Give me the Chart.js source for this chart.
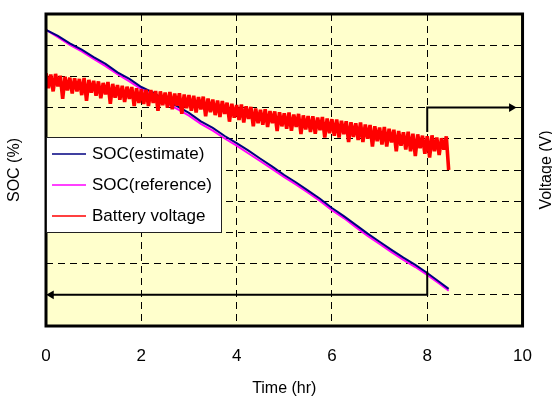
<!DOCTYPE html>
<html>
<head>
<meta charset="utf-8">
<script src="https://cdn.jsdelivr.net/npm/chart.js@4.4.1/dist/chart.umd.min.js"></script>
<style>
  html, body { margin: 0; padding: 0; background: #fff; }
</style>
</head>
<body>
<canvas id="myChart" width="552" height="399"></canvas>
<script>
// SOC samples (hr, %)
const socTime = [0, 0.25, 0.5, 0.75, 1, 1.25, 1.5, 1.75, 2, 2.25, 2.5, 2.75, 3, 3.25, 3.5, 3.75, 4, 4.25, 4.5, 4.75,
  5, 5.25, 5.5, 5.75, 6, 6.25, 6.5, 6.75, 7, 7.25, 7.5, 7.75, 8, 8.25, 8.45];
const socEstimate = [94.9, 93.0, 90.6, 88.6, 86.2, 84.0, 81.3, 79.2, 76.6, 74.8, 72.4, 70.5, 68.3, 65.6, 63.5, 60.9, 58.6, 56.2, 53.6, 51.1,
  48.4, 46.0, 43.4, 40.8, 37.8, 35.2, 32.4, 29.6, 27.0, 24.4, 21.9, 19.6, 17.0, 14.2, 11.9];
const socReference = [94.9, 92.6, 90.1, 88.0, 85.6, 83.3, 80.7, 78.4, 75.9, 73.9, 71.6, 69.6, 67.4, 64.8, 62.6, 60.1, 57.8, 55.3, 52.8, 50.3,
  47.7, 45.3, 42.7, 40.1, 37.1, 34.6, 31.7, 28.9, 26.3, 23.7, 21.2, 18.9, 16.4, 13.6, 11.3];

// battery voltage, one sample every 0.05 hr
const voltageStep = 0.05;
const batteryVoltage = [
  3.810, 3.762, 3.806, 3.752, 3.808, 3.768, 3.802, 3.728, 3.799, 3.755,
  3.796, 3.745, 3.794, 3.752, 3.792, 3.740, 3.795, 3.722, 3.789, 3.748,
  3.786, 3.738, 3.784, 3.730, 3.779, 3.742, 3.782, 3.712, 3.776, 3.732,
  3.772, 3.725, 3.770, 3.718, 3.767, 3.728, 3.766, 3.705, 3.762, 3.715,
  3.759, 3.712, 3.757, 3.705, 3.756, 3.715, 3.753, 3.690, 3.752, 3.708,
  3.748, 3.700, 3.750, 3.695, 3.745, 3.706, 3.746, 3.680, 3.742, 3.698,
  3.740, 3.690, 3.738, 3.684, 3.734, 3.694, 3.735, 3.672, 3.729, 3.685,
  3.726, 3.676, 3.723, 3.670, 3.721, 3.680, 3.716, 3.655, 3.712, 3.668,
  3.708, 3.660, 3.710, 3.652, 3.704, 3.664, 3.702, 3.640, 3.697, 3.650,
  3.693, 3.645, 3.695, 3.638, 3.689, 3.650, 3.688, 3.625, 3.685, 3.640,
  3.682, 3.632, 3.684, 3.626, 3.678, 3.638, 3.680, 3.615, 3.675, 3.630,
  3.673, 3.622, 3.672, 3.616, 3.668, 3.628, 3.670, 3.604, 3.665, 3.618,
  3.663, 3.610, 3.662, 3.604, 3.658, 3.615, 3.656, 3.590, 3.653, 3.606,
  3.650, 3.596, 3.652, 3.590, 3.646, 3.600, 3.644, 3.575, 3.640, 3.592,
  3.636, 3.582, 3.638, 3.575, 3.632, 3.588, 3.629, 3.560, 3.625, 3.578,
  3.621, 3.566, 3.623, 3.560, 3.616, 3.545, 3.614, 3.570, 3.610, 3.552,
  3.608, 3.540, 3.611, 3.560, 3.604, 3.548, 3.602, 3.565, 3.608, 3.500
];

// arrows pointing to each axis
const voltArrowX = [8, 8, 9.77];
const voltArrowY = [3.622, 3.70, 3.70];
const socArrowX = [8, 8, 0.11];
const socArrowY = [17.5, 10, 10];

const xTicks = [0, 2, 4, 6, 8, 10];

const pts = (xs, ys) => xs.map((x, i) => ({ x: x, y: ys[i] }));
const voltagePoints = batteryVoltage.map((v, i) => ({ x: +(i * voltageStep).toFixed(2), y: v }));

const FONT = '"Liberation Sans", Arial, sans-serif';

const plotBackground = {
  id: 'plotBackground',
  beforeDraw(chart) {
    const { ctx, chartArea: a } = chart;
    ctx.save();
    ctx.fillStyle = '#ffffcc';
    ctx.fillRect(a.left, a.top, a.right - a.left, a.bottom - a.top);
    ctx.restore();
  },
  afterDatasetsDraw(chart) {
    const { ctx, chartArea: a } = chart;
    ctx.save();
    ctx.strokeStyle = '#000';
    ctx.lineWidth = 3;
    ctx.strokeRect(a.left, a.top, a.right - a.left, a.bottom - a.top);

    // legend box
    const lx = a.left, ly = 137, lw = 175, lh = 95;
    ctx.fillStyle = '#fff';
    ctx.fillRect(lx, ly, lw, lh);
    ctx.lineWidth = 1;
    ctx.strokeStyle = '#222';
    ctx.strokeRect(lx + 0.5, ly + 0.5, lw, lh);
    ctx.font = '17px ' + FONT;
    ctx.textBaseline = 'middle';
    ctx.fillStyle = '#000';
    const rows = [154, 185, 216];
    chart.data.datasets.slice(0, 3).forEach((ds, i) => {
      ctx.strokeStyle = ds.borderColor;
      ctx.lineWidth = 1.5;
      ctx.beginPath();
      ctx.moveTo(lx + 6, rows[i]);
      ctx.lineTo(lx + 40, rows[i]);
      ctx.stroke();
      ctx.fillText(ds.label, lx + 46, rows[i]);
    });

    // right axis title, reading bottom to top
    ctx.translate(547, 170);
    ctx.rotate(-Math.PI / 2);
    ctx.textAlign = 'center';
    ctx.font = '16px ' + FONT;
    ctx.fillText('Voltage (V)', 0, 0);
    ctx.restore();
  }
};

new Chart(document.getElementById('myChart').getContext('2d'), {
  type: 'line',
  data: {
    datasets: [{
      label: 'SOC(estimate)',
      data: pts(socTime, socEstimate),
      yAxisID: 'y',
      borderColor: '#000080',
      borderWidth: 2,
      pointRadius: 0,
      order: 2
    }, {
      label: 'SOC(reference)',
      data: pts(socTime, socReference),
      yAxisID: 'y',
      borderColor: '#ff00ff',
      borderWidth: 2,
      pointRadius: 0,
      order: 3
    }, {
      label: 'Battery voltage',
      data: voltagePoints,
      yAxisID: 'yV',
      borderColor: '#ff0000',
      borderWidth: 3.6,
      borderJoinStyle: 'bevel',
      pointRadius: 0,
      order: 1
    }, {
      label: 'voltage arrow',
      data: pts(voltArrowX, voltArrowY),
      yAxisID: 'yV',
      borderColor: '#000',
      borderWidth: 2,
      pointRadius: [0, 0, 5],
      pointStyle: 'triangle',
      pointRotation: 90,
      pointBackgroundColor: '#000',
      pointBorderWidth: 0,
      order: 0
    }, {
      label: 'soc arrow',
      data: pts(socArrowX, socArrowY),
      yAxisID: 'y',
      borderColor: '#000',
      borderWidth: 2,
      pointRadius: [0, 0, 5],
      pointStyle: 'triangle',
      pointRotation: 270,
      pointBackgroundColor: '#000',
      pointBorderWidth: 0,
      order: 0
    }]
  },
  options: {
    responsive: false,
    animation: false,
    devicePixelRatio: 1,
    layout: { padding: { top: 14, left: 0, right: 0, bottom: 0 } },
    plugins: {
      legend: { display: false },
      tooltip: { enabled: false }
    },
    scales: {
      x: {
        type: 'linear',
        min: 0,
        max: 10,
        afterBuildTicks: (s) => { s.ticks = xTicks.map(v => ({ value: v })); },
        afterFit: (s) => { s.height = 73; },
        ticks: { color: '#000', padding: 20, font: { size: 17, family: FONT } },
        grid: { color: '#000', lineWidth: 1, drawTicks: false },
        border: { display: false, dash: [7, 5] },
        title: {
          display: true,
          text: 'Time (hr)',
          color: '#000',
          font: { size: 16, family: FONT },
          padding: { top: 0, bottom: 1 }
        }
      },
      y: {
        position: 'left',
        min: 0,
        max: 100,
        afterFit: (s) => { s.width = 46; },
        ticks: { display: false, stepSize: 10 },
        grid: { color: '#000', lineWidth: 1, drawTicks: false },
        border: { display: false, dash: [7, 5] },
        title: {
          display: true,
          text: 'SOC (%)',
          color: '#000',
          font: { size: 16, family: FONT },
          padding: { top: 5, bottom: 0 }
        }
      },
      yV: {
        position: 'right',
        min: 3.0,
        max: 4.0,
        afterFit: (s) => { s.width = 28; },
        ticks: { display: false },
        grid: { display: false, drawTicks: false },
        border: { display: false }
      }
    }
  },
  plugins: [plotBackground]
});
</script>
</body>
</html>
